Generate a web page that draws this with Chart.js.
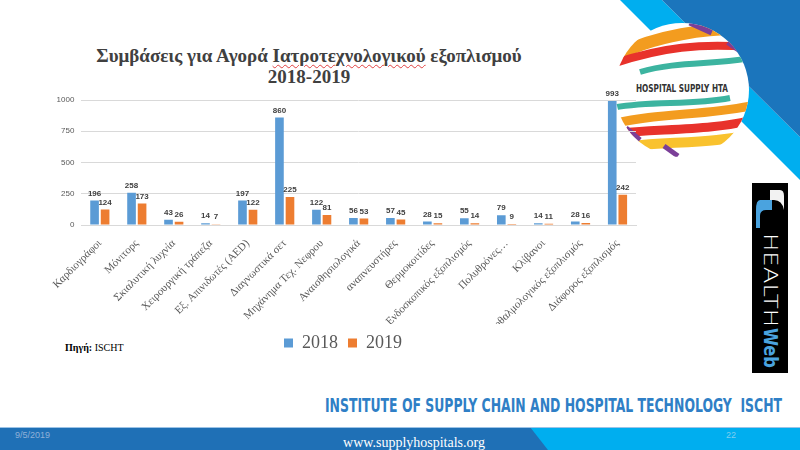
<!DOCTYPE html>
<html>
<head>
<meta charset="utf-8">
<script src="https://cdn.jsdelivr.net/npm/chart.js@4"></script>
<style>
  html, body { margin: 0; padding: 0; background: #fff; }
  #slide { position: relative; width: 800px; height: 450px; overflow: hidden; background: #fff; }
  .abs { position: absolute; white-space: nowrap; }
  #title { left: 0; width: 618px; top: 45px; text-align: center; font-family: "Liberation Serif", serif;
           font-weight: bold; font-size: 19px; line-height: 21px; color: #404040; }
  #title u { text-decoration: underline wavy #e04040; text-decoration-thickness: 1px; text-underline-offset: 2px; }
  #source { left: 65px; top: 342px; font-family: "Liberation Serif", serif; font-size: 10px; color: #000; }
  #institute { left: 325px; top: 393px; font-family: "DejaVu Sans Condensed", sans-serif; font-weight: bold;
               font-size: 20px; color: #2f7fc6; transform-origin: left top; }
  #chartBox { left: 50px; top: 85px; }
</style>
</head>
<body>
<div id="slide">
  <svg class="abs" style="left:0;top:0" width="800" height="450">
    <defs>
      <clipPath id="logoClip"><circle cx="682" cy="90" r="67"/></clipPath>
    </defs>
    <!-- top right bands -->
    <polygon points="620,0 662,0 800,137 800,180" fill="#00aeef"/>
    <polygon points="662,0 800,0 800,137" fill="#1b75bc"/>
    <!-- logo -->
    <circle cx="682" cy="90" r="67" fill="#fff"/>
    <g clip-path="url(#logoClip)" fill="none">
      <path d="M612,58 C650,36 710,26 760,30" stroke="#f39c1f" stroke-width="12"/>
      <path d="M612,64 C660,48 700,42 760,48" stroke="#e8322b" stroke-width="8"/>
      <path d="M690,22 L712,32" stroke="#7b3f98" stroke-width="7"/>
      <path d="M728,42 L748,56" stroke="#7b3f98" stroke-width="6"/>
      <path d="M640,72 C680,60 720,66 760,56" stroke="#3cb4a0" stroke-width="6"/>
      <path d="M612,108 C650,100 690,106 730,98" stroke="#3cb4a0" stroke-width="6"/>
      <path d="M612,124 C660,112 710,116 760,104" stroke="#f39c1f" stroke-width="9"/>
      <path d="M612,134 C660,128 710,132 760,118" stroke="#e8322b" stroke-width="9"/>
      <path d="M620,148 C660,140 710,146 760,132" stroke="#f9c22e" stroke-width="10"/>
      <path d="M626,128 L640,140" stroke="#7b3f98" stroke-width="5"/>
      <path d="M664,146 L678,156" stroke="#7b3f98" stroke-width="5"/>
    </g>
    <text x="682" y="92" text-anchor="middle" font-family="DejaVu Sans Condensed" font-weight="bold"
          font-size="10" fill="#333" textLength="92" lengthAdjust="spacingAndGlyphs">HOSPITAL SUPPLY HTA</text>
    <!-- HealthWeb box -->
    <rect x="752" y="183" width="36" height="190" fill="#000"/>
    <path d="M770,190 h10 q4,0 4,6 v14 q-2,-10 -10,-10 h-4 z" fill="#f2f2f2"/>
    <path d="M760,200 h12 v10 h-6 q-6,0 -6,6 v12 h-4 v-18 q0,-10 4,-10 z" fill="#4aa3df"/>
    <text transform="translate(764,233) rotate(90)" font-family="DejaVu Sans" font-size="20" fill="#fff"
          font-weight="200" textLength="94" lengthAdjust="spacingAndGlyphs">HEALTH</text>
    <text transform="translate(764,328) rotate(90)" font-family="DejaVu Sans" font-weight="bold" font-size="20"
          fill="#4aa3df" textLength="40" lengthAdjust="spacingAndGlyphs">Web</text>
    <!-- footer -->
    <rect x="0" y="427" width="560" height="23" fill="#1f70b6"/>
    <polygon points="530,427 800,427 800,450 548,450" fill="#00aeef"/>
    <line x1="0" y1="427.5" x2="800" y2="427.5" stroke="#9cc3e6" stroke-width="1"/>
    <text x="15" y="438" font-family="Liberation Sans" font-size="9" fill="#8fb0d8">9/5/2019</text>
    <text x="726" y="438" font-family="Liberation Sans" font-size="9" fill="#7fcdf0">22</text>
    <text x="414" y="447" text-anchor="middle" font-family="Liberation Serif" font-size="14" fill="#fff">www.supplyhospitals.org</text>
  </svg>

  <div id="title" class="abs">Συμβάσεις για Αγορά <u>Ιατροτεχνολογικού</u> εξοπλισμού<br>2018-2019</div>
  <div id="source" class="abs"><b>Πηγή:</b> ISCHT</div>
  <div id="institute" class="abs">INSTITUTE OF SUPPLY CHAIN AND HOSPITAL TECHNOLOGY&nbsp;&nbsp;ISCHT</div>

  <div id="chartBox" class="abs"><canvas id="myChart" width="608" height="277"></canvas></div>
</div>

<script>
// Chart data
const categories = ['Καρδιογράφοι', 'Μόνιτορς', 'Σκιαλυτική λυχνία', 'Χειρουργική τράπεζα',
    'Εξ. Απινιδωτές (AED)', 'Διαγνωστικά σετ', 'Μηχάνημα Τεχ. Νεφρου', 'Αναισθησιολογικά',
    'αναπνευστήρες', 'Θερμοκοιτίδες', 'Ενδοσκοπικός εξοπλισμός', 'Πολυθρόνες…', 'Κλίβανοι',
    'Οφθαλμολογικός εξοπλισμός', 'Διάφορος εξοπλισμός'];
const values2018 = [196, 258, 43, 14, 197, 860, 122, 56, 57, 28, 55, 79, 14, 28, 993];
const values2019 = [124, 173, 26, 7, 122, 225, 81, 53, 45, 15, 14, 9, 11, 16, 242];
const yTicks = [0, 250, 500, 750, 1000];

// squeeze the footer heading into its width
const inst = document.getElementById('institute');
inst.style.transform = 'scaleX(' + (457 / inst.offsetWidth) + ')';

// Draw the numbers above each bar
const valueLabels = {
    id: 'valueLabels',
    afterDatasetsDraw(chart) {
        const ctx = chart.ctx;
        ctx.save();
        ctx.font = 'bold 8px "Liberation Sans"';
        ctx.fillStyle = '#404040';
        ctx.textAlign = 'center';
        ctx.textBaseline = 'bottom';
        chart.data.datasets.forEach((ds, i) => {
            chart.getDatasetMeta(i).data.forEach((bar, j) => {
                ctx.fillText(ds.data[j], bar.x, bar.y - 3);
            });
        });
        ctx.restore();
    }
};

const ctx = document.getElementById('myChart').getContext('2d');
const chart = new Chart(ctx, {
    type: 'bar',
    data: {
        labels: categories,
        datasets: [
            { label: '2018', data: values2018, backgroundColor: '#5b9bd5', borderWidth: 0,
              categoryPercentage: 0.57, barPercentage: 0.82 },
            { label: '2019', data: values2019, backgroundColor: '#ed7d31', borderWidth: 0,
              categoryPercentage: 0.57, barPercentage: 0.82 }
        ]
    },
    options: {
        responsive: false,
        animation: false,
        devicePixelRatio: 1,
        layout: { padding: { top: 15, right: 22, left: 0, bottom: 0 } },
        plugins: {
            legend: {
                position: 'bottom',
                labels: {
                    boxWidth: 9,
                    boxHeight: 9,
                    padding: 10,
                    color: '#595959',
                    font: { family: "'Liberation Serif'", size: 18 }
                }
            },
            tooltip: { enabled: false }
        },
        scales: {
            x: {
                grid: { display: false },
                border: { color: '#d9d9d9' },
                ticks: {
                    color: '#595959',
                    font: { family: "'Liberation Serif'", size: 11 },
                    minRotation: 45,
                    maxRotation: 45,
                    autoSkip: false,
                    padding: 4
                },
                afterFit(scale) { scale.height = 99; }
            },
            y: {
                min: 0,
                max: 1000,
                grid: { color: '#d9d9d9', drawTicks: false },
                border: { display: false },
                ticks: {
                    color: '#595959',
                    font: { family: "'Liberation Sans'", size: 8 },
                    padding: 7,
                    callback: v => String(v)
                },
                afterBuildTicks(scale) { scale.ticks = yTicks.map(v => ({ value: v })); },
                afterFit(scale) { scale.width = 31; }
            }
        }
    },
    plugins: [valueLabels]
});
</script>
</body>
</html>
